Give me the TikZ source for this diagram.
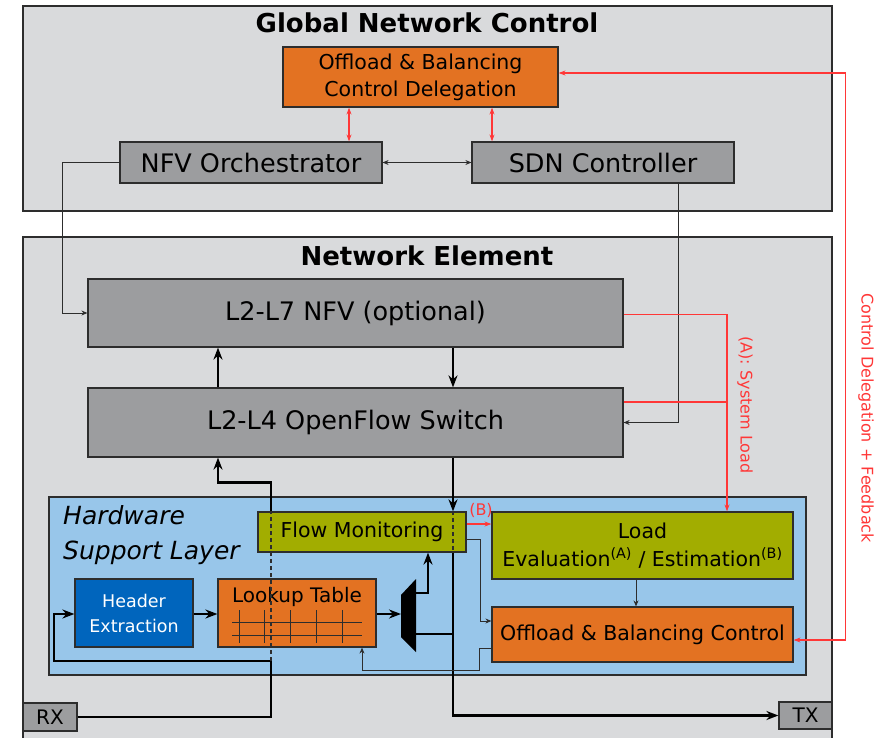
\documentclass[tikz,border=0pt]{standalone}
\usepackage{fontspec}
\setmainfont{DejaVu Sans}
\usetikzlibrary{arrows.meta}

\definecolor{panelgray}{RGB}{217,218,220}
\definecolor{boxgray}{RGB}{156,157,159}
\definecolor{tumorange}{HTML}{E37222}
\definecolor{tumgreen}{HTML}{A2AD00}
\definecolor{tumlightblue}{HTML}{98C6EA}
\definecolor{tumblue}{HTML}{0065BD}
\definecolor{ctlred}{RGB}{255,55,55}
\definecolor{edge}{RGB}{45,45,45}

\tikzset{
  panel/.style={draw=edge,line width=1.4pt,fill=panelgray},
  hwpanel/.style={draw=edge,line width=1.2pt,fill=tumlightblue},
  blk/.style={draw=edge,line width=1.2pt,inner sep=0pt,align=center},
  graybox/.style={blk,fill=boxgray,font=\fontsize{25.5}{30}\selectfont},
  orangebox/.style={blk,fill=tumorange,font=\fontsize{20.5}{27}\selectfont},
  greenbox/.style={blk,fill=tumgreen,font=\fontsize{20.5}{28}\selectfont},
  portbox/.style={blk,fill=boxgray,font=\fontsize{20}{24}\selectfont},
  title/.style={anchor=base,inner sep=0pt,font=\bfseries\fontsize{26}{30}\selectfont},
  redlbl/.style={inner sep=0pt,text=ctlred,font=\fontsize{16}{20}\selectfont},
  data/.style={draw=black,line width=2.2pt,>={Stealth[length=12pt,width=9pt]}},
  thinln/.style={draw=edge,line width=0.9pt,>={Stealth[length=6pt,width=5pt]}},
  ctl/.style={draw=ctlred,line width=1.1pt,>={Stealth[length=7pt,width=5pt]}},
  tap/.style={draw=edge,line width=1.4pt,dash pattern=on 4pt off 3pt},
}

\begin{document}
\begin{tikzpicture}[x=1pt,y=-1pt]
 \useasboundingbox (0,0) rectangle (875,738);
 % global network control
 \draw[panel] (23,6) rectangle (832,211);
 \node[title] (gnctitle) at (427,33) {Global Network Control};
 \node[orangebox,minimum width=275,minimum height=60] (deleg) at (420.5,77) {Offload \& Balancing\\Control Delegation};
 \node[graybox,minimum width=262,minimum height=41] (nfvo) at (251,162.5) {NFV Orchestrator};
 \node[graybox,minimum width=262,minimum height=41] (sdn) at (603,162.5) {SDN Controller};
 % network element
 \draw[panel] (23,237) rectangle (832,760);
 \node[title] (netitle) at (427,265) {Network Element};
 \node[graybox,minimum width=535,minimum height=68] (nfv) at (355.5,313) {L2-L7 NFV (optional)};
 \node[graybox,minimum width=535,minimum height=69] (ofs) at (355.5,422.5) {L2-L4 OpenFlow Switch};
 \node[portbox,minimum width=54,minimum height=28] (rx) at (50,717) {RX};
 \node[portbox,minimum width=53,minimum height=27] (tx) at (805.5,715.5) {TX};
 % hardware support layer
 \draw[hwpanel] (49,497) rectangle (806,675);
 \node[anchor=north west,inner sep=0pt,align=left,font=\itshape\fontsize{25}{35}\selectfont] (hsltitle) at (63,505) {Hardware\\Support Layer};
 \node[greenbox,minimum width=208,minimum height=40] (fmon) at (362,532) {Flow Monitoring};
 \node[greenbox,minimum width=301,minimum height=67] (load) at (642.5,545.5) {Load\\Evaluation\textsuperscript{(A)} / Estimation\textsuperscript{(B)}};
 \node[orangebox,minimum width=301,minimum height=55] (obc) at (642.5,634.5) {Offload \& Balancing Control};
 \node[blk,fill=tumblue,text=white,minimum width=118,minimum height=68,font=\fontsize{17.5}{25}\selectfont] (hdr) at (134,613) {Header\\Extraction};
 \node[blk,fill=tumorange,minimum width=158,minimum height=68] (lut) at (297,613) {};
 \node[anchor=base,inner sep=0pt,font=\fontsize{20}{24}\selectfont] (luttxt) at (297,602) {Lookup Table};
 \foreach \gx in {239,264,290,316,342}
   \draw[edge,line width=0.8pt] (\gx,610) -- (\gx,643);
 \foreach \gy in {622,635}
   \draw[edge,line width=0.8pt] (232,\gy) -- (362,\gy);
 % demux
 \fill (401,595) -- (416,579) -- (416,652) -- (401,637) -- cycle;
 \coordinate (muxin) at (401,614);
 \coordinate (muxa) at (416,593);
 \coordinate (muxb) at (416,634);
 \coordinate (split) at (271,661);

 % control plane
 \draw[ctl,<->] (deleg.south -| 349,0) -- (nfvo.north -| 349,0);
 \draw[ctl,<->] (deleg.south -| 492,0) -- (sdn.north -| 492,0);
 \draw[thinln,<->] (nfvo.east) -- (sdn.west);
 \draw[thinln,->] (nfvo.west) -- (nfvo.west -| 62,0) |- (nfv.west);
 \draw[thinln,->] (sdn.south -| 678,0) |- (ofs.east);
 \draw[ctl,<->] ([yshift=4]deleg.east) -| ([xshift=52,yshift=-5.5]obc.east) -- ([yshift=-5.5]obc.east);
 \node[redlbl,rotate=-90] (fblbl) at (866,418) {Control Delegation + Feedback};
 \draw[ctl,->] ([yshift=-1.5]nfv.east) -| ([xshift=84.5]load.north);
 \draw[ctl] ([yshift=20.5]ofs.east) -- ([yshift=20.5]ofs.east -| 727,0);
 \node[redlbl,rotate=-90] (sllbl) at (745,405) {(A): System Load};

 % data path
 \draw[data,->] (ofs.north -| 218,0) -- (nfv.south -| 218,0);
 \draw[data,->] (nfv.south -| 453,0) -- (ofs.north -| 453,0);
 \draw[data,->] (ofs.south -| 453,0) -- (fmon.north -| 453,0);
 \draw[tap] (fmon.north -| 453,0) -- (fmon.south -| 453,0);
 \draw[data,->] (fmon.south -| 453,0) |- (tx.west);
 \draw[data,->] (rx.east) -| (split) -| (54,614) -- (hdr.west |- 0,614);
 \draw[tap] (split) -- (fmon.north -| split);
 \draw[data,->] (fmon.north -| split) -- ++(0,-29) -| (ofs.south -| 218,0);
 \draw[data,->] (hdr.east |- muxin) -- (lut.west |- muxin);
 \draw[data,->] (lut.east |- muxin) -- (muxin);
 \draw[data,->] (muxa) -| (fmon.south -| 428,0);
 \draw[data] (muxb) -- (muxb -| 453,0);

 % hardware control
 \draw[ctl,->] ([yshift=8]fmon.east) -- ([yshift=8]fmon.east -| load.west);
 \node[redlbl] (blbl) at (481,510) {(B)};
 \draw[thinln,->] ([yshift=-7]fmon.east) -- ([yshift=-7]fmon.east -| 480,0) |- ([yshift=13.5]obc.west);
 \draw[thinln,->] (load.south -| 636,0) -- (obc.north -| 636,0);
 \draw[thinln,->] ([yshift=-13.5]obc.west) -- ++(-12,0) -- ++(0,22) -| (lut.south -| 362,0);
\end{tikzpicture}
\end{document}
